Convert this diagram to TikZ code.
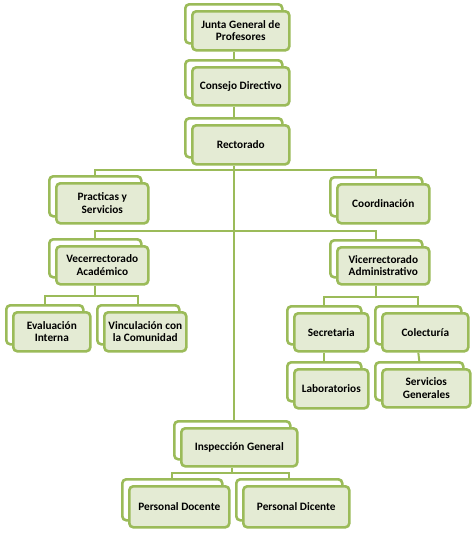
\documentclass[tikz,border=0pt]{standalone}
\usepackage{fontspec}
\setmainfont{Carlito}
\definecolor{olive}{HTML}{9BBB59}
\definecolor{frontfill}{HTML}{E4EBD4}
\tikzset{
  backbox/.style={draw=olive, line width=2.6pt, fill=white, rounded corners=4pt, inner sep=0pt},
  frontbox/.style={draw=olive, line width=2.6pt, fill=frontfill, rounded corners=4pt, inner sep=1pt,
     align=center, font=\bfseries\fontsize{11.3}{12.5}\selectfont, text=black},
  conn/.style={draw=olive, line width=2pt}
}
\newcommand\obox[6]{%
  \node[backbox, minimum width=#4, minimum height=#5, anchor=north west] (#1B) at (#2-7,#3-7) {};
  \node[frontbox, minimum width=#4, minimum height=#5, anchor=north west] (#1) at (#2,#3) {#6};
}
\begin{document}
\begin{tikzpicture}[x=1pt,y=-1pt]
\useasboundingbox (0,0) rectangle (475,550);
\fill[white] (0,0) rectangle (475,550);
% boxes
\obox{junta}{191}{10}{97}{39}{Junta General de\\Profesores}
\obox{consejo}{191}{66}{97}{38}{Consejo Directivo}
\obox{rect}{191}{124}{97}{39}{Rectorado}
\obox{prac}{55}{182}{92}{40}{Practicas y\\Servicios}
\obox{coord}{336}{183}{92}{39}{Coordinación}
\obox{vec}{55}{245}{92}{38}{Vecerrectorado\\Académico}
\obox{vic}{336}{246}{92}{37}{Vicerrectorado\\Administrativo}
\obox{eval}{12}{311}{77}{39}{Evaluación\\Interna}
\obox{vinc}{103}{311}{82}{39}{Vinculación con\\la Comunidad}
\obox{sec}{293}{312}{74}{38}{Secretaria}
\obox{col}{381}{312}{86}{38}{Colecturía}
\obox{lab}{293}{368}{74}{39}{Laboratorios}
\obox{serv}{381}{368}{88}{38}{Servicios\\Generales}
\obox{insp}{180}{427}{116}{38}{Inspección General}
\obox{doc}{128}{485}{100}{41}{Personal Docente}
\obox{dic}{242}{485}{106}{41}{Personal Dicente}
% bus coordinates
\coordinate (bus1) at (232.5,170);
\coordinate (bus2) at (232.5,231);
\coordinate (bus3) at (0,296);
\coordinate (bus4) at (0,297);
\coordinate (bus5) at (0,473);
% connectors
\draw[conn] (juntaB.south |- junta.south) -- (consejoB.north);
\draw[conn] (consejoB.south |- consejo.south) -- (rectB.north);
\draw[conn] (rectB.south |- rect.south) -- (rectB.south |- inspB.north);
\draw[conn] (pracB.north) |- (bus1) -| (coordB.north);
\draw[conn] (vecB.north) |- (bus2) -| (vicB.north);
\draw[conn] (vecB.south |- vec.south) -- (vecB.south |- bus3);
\draw[conn] (evalB.north) |- (vecB.south |- bus3) -| (vincB.north);
\draw[conn] (vicB.south |- vic.south) -- (vicB.south |- bus4);
\draw[conn] (secB.north) |- (vicB.south |- bus4) -| (colB.north);
\draw[conn] (secB.south |- sec.south) -- (labB.north);
\draw[conn] (colB.south |- col.south) -- (servB.north);
\draw[conn] (inspB.south |- insp.south) -- (inspB.south |- bus5);
\draw[conn] (docB.north) |- (inspB.south |- bus5) -| (dicB.north);
\end{tikzpicture}
\end{document}
